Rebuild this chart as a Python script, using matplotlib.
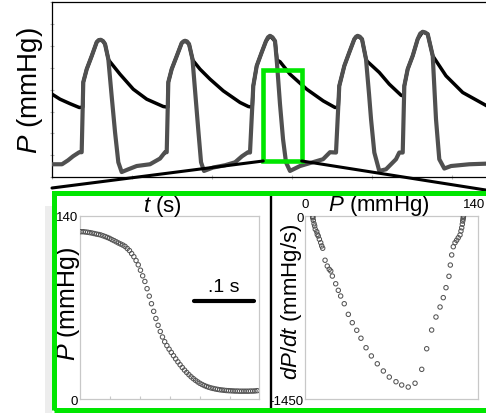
import numpy as np
import matplotlib
matplotlib.use('Agg')
import matplotlib.pyplot as plt
import matplotlib.transforms as mtransforms
from matplotlib.patches import Rectangle, ConnectionPatch
from matplotlib.lines import Line2D

plt.rcParams['font.family'] = ['Liberation Sans', 'DejaVu Sans']
plt.rcParams['mathtext.fontset'] = 'custom'
plt.rcParams['mathtext.it'] = 'Liberation Sans:italic'
plt.rcParams['mathtext.rm'] = 'Liberation Sans'

# ---------------- data ----------------
# Top panel: left-ventricular pressure (grey) and aortic pressure (black); time in ms, P in mmHg
lv_t = [0, 12.5, 20, 26.3, 34.1, 37.1, 39.1, 43.4, 49.6, 55.9, 58.4, 60.9, 63.8, 66.3, 70.4, 74.6, 78.8, 82.9, 87.1,
        95.4, 105.9, 122.5, 135, 141.3,
        143.4, 145.4, 149.6, 155.9, 162.1, 164.2, 166.3, 168.8, 171.3, 175.6, 179.4, 183.1, 186.3, 190, 201.3,
        216.3, 228.8, 237.5, 245,
        247.5, 251.6, 255.9, 262.1, 267.5, 270.0, 272.5, 275.6, 278.8, 281.3, 285, 288.8, 292.5, 297.5, 310,
        338.8, 347.5,
        355, 359.1, 365.4, 371.6, 377.9, 380.0, 382.1, 384.8, 387.5, 392.5, 396.3, 398.8, 402.9, 409.1, 417.5,
        430, 434.1,
        438.4, 440.4, 444.6, 450.9, 457.1, 460.3, 463.4, 466.5, 469.6, 475.9, 480, 484.1, 490.4, 498.8, 521.6, 545]
lv_p = [11.9, 11.9, 15.5, 19.2, 22.9, 22.9, 86.8, 98.7, 110.6, 123.4, 125.2, 125.5, 124.3, 121.6, 107.9, 74.0, 41.1,
        13.7, 4.8, 7.3, 10.3, 11.9, 17.1, 22.9,
        22.9, 86.8, 98.7, 110.6, 122.5, 124.0, 124.6, 124.0, 121.6, 107.9, 74.0, 41.1, 13.7, 5.8, 8.9,
        11.0, 13.7, 19.2, 22.9,
        22.6, 83.4, 101.7, 114.0, 124.3, 127.8, 129.1, 127.8, 124.3, 103.3, 66.7, 34.7, 13.7, 5.8, 10.3,
        16.5, 22.9,
        22.6, 83.4, 101.7, 114.0, 126.1, 128.3, 129.1, 128.3, 126.1, 107.9, 75.9, 53.0, 22.6, 5.8, 7.3,
        16.5, 22.6,
        22.6, 83.4, 98.7, 110.9, 126.1, 131.2, 132.8, 132.2, 130.7, 110.9, 53.0, 16.5, 8.0, 10.3, 11.9, 12.5]

ao_t = [0, 10, 22.5, 34.1, 38.4, 39.1, 43.4, 49.6, 55.9, 58.4, 60.9, 63.8, 66.3, 70.4, 71.6, 85, 101.6, 118.4,
        139.1, 144.7,
        145.4, 149.6, 155.9, 162.1, 166.3, 171.3, 175.6, 176.6, 185, 197.5, 214.1, 235, 245.4, 250.3,
        251.6, 255.9, 262.1, 267.5, 272.5, 278.8, 281.3, 285, 297.5, 318.4, 339.1, 353.8, 357.8,
        359.1, 365.4, 371.6, 377.9, 382.1, 387.5, 392.5, 393.8, 409.1, 421.6, 436.3, 440.1,
        440.4, 444.6, 450.9, 457.1, 463.4, 469.6, 475.9, 492.5, 513.4, 545]
ao_p = [75.9, 71.3, 67.2, 63.7, 64.0, 86.8, 98.7, 110.6, 123.4, 125.2, 125.5, 124.3, 121.6, 107.9, 106.3, 94.1,
        80.4, 71.3, 64.6, 64.0,
        86.8, 98.7, 110.6, 122.5, 124.6, 121.6, 107.9, 106.3, 98.7, 89.6, 78.9, 68.3, 64.6, 64.0,
        83.4, 101.7, 114.0, 124.3, 129.1, 124.3, 107.0, 105.5, 94.1, 80.4, 69.7, 63.7, 64.0,
        83.4, 101.7, 114.0, 126.1, 129.1, 126.1, 107.9, 106.0, 95.7, 85.0, 74.9, 74.0,
        83.4, 98.7, 110.9, 126.1, 132.8, 130.7, 110.9, 92.6, 77.4, 64.6]

# zoom window (ms, mmHg)
zoom_t = [264.1, 312.1]
zoom_p = [14.9, 97.5]

# Lower left: pressure samples during relaxation (mmHg), uniform sampling
p_relax = [128.0, 128.0, 127.8, 127.6, 127.3, 127.0, 126.6, 126.2, 125.9, 125.5, 124.9, 124.3, 123.6, 122.9,
           122.0, 121.2, 120.3, 119.4, 118.6, 117.8, 116.8, 115.2, 113.6, 111.3, 108.9, 106.0, 102.7, 98.6,
           94.3, 90.0, 84.5, 78.8, 73.0, 67.2, 61.7, 56.5, 51.8, 47.6, 44.0, 41.0, 38.3, 35.8, 33.3, 30.9,
           28.6, 26.4, 24.3, 22.3, 20.5, 18.8, 17.2, 15.8, 14.5, 13.3, 12.2, 11.3, 10.5, 9.8, 9.2, 8.7, 8.3,
           7.9, 7.6, 7.3, 7.1, 6.9, 6.7, 6.6, 6.5, 6.4, 6.3, 6.3, 6.2, 6.2, 6.2, 6.2, 6.2, 6.3, 6.3, 6.4, 6.6]
t0 = 0.00167
dt = 0.00367
t_relax = t0 + dt * np.arange(len(p_relax))

# Lower right: phase plot dP/dt vs P
pv_p = [128.0, 127.9, 127.7, 127.4, 127.1, 126.6, 126.0, 125.2, 123.8, 122.5, 121.2, 119.8, 118.5, 117.4,
        116.3, 113.9, 111.7, 109.1, 105.8, 102.3, 98.3, 94.3, 88.9, 83.4, 78.1, 73.5, 68.1, 63.3, 58.4, 53.6,
        49.3, 45.2, 41.8, 38.2, 35.0, 31.7, 28.8, 26.9, 24.8, 22.1, 20.8, 19.6, 18.0, 16.2, 14.3, 13.5, 12.7,
        11.6, 10.7, 9.9, 9.5, 8.3, 7.8, 7.3, 6.7, 6.2, 6.2, 6.3]
pv_dpdt = [-3, -13, -25, -40, -65, -93, -119, -150, -172, -192, -211, -243, -308, -388, -477, -567, -646,
           -720, -799, -902, -1050, -1213, -1323, -1353, -1337, -1311, -1274, -1226, -1169, -1107, -1042,
           -967, -904, -844, -778, -694, -633, -588, -536, -475, -435, -422, -396, -350, -255, -237, -211,
           -184, -158, -145, -124, -105, -79, -61, -34, -8, -3, -15]

scale_bar_s = 0.1

# ---------------- figure ----------------
W, H = 486, 414
fig = plt.figure(figsize=(W / 100, H / 100), dpi=100)
fig.patch.set_facecolor('white')


def rect(x0, y0, x1, y1):
    return [x0 / W, 1 - y1 / H, (x1 - x0) / W, (y1 - y0) / H]


def fp(x, y):
    return (x / W, 1 - y / H)


GREEN = '#00e600'
GREY = '#505050'

# faint shadow left of the lower frame
fig.add_artist(Rectangle(fp(45, 414), 7 / W, (414 - 207) / H, transform=fig.transFigure,
                         facecolor='#ededed', edgecolor='none', zorder=0))

# ---- top panel ----
ax = fig.add_axes(rect(52, 3, 488, 178.3))
ax.patch.set_alpha(0)
ax.plot(ao_t, ao_p, color='black', lw=2.5, solid_joinstyle='round', solid_capstyle='round', zorder=2)
ax.plot(lv_t, lv_p, color=GREY, lw=3.0, solid_joinstyle='round', solid_capstyle='round', zorder=3)
ax.set_xlim(0, 545)
ax.set_ylim(0, 160)
ax.set_xticks(np.arange(0, 545, 100))
ax.set_yticks(np.arange(0, 161, 20))
ax.tick_params(labelleft=False, labelbottom=False, color='#b8b8b8', length=3, width=0.8, direction='inout')
for s in ['left', 'bottom', 'top']:
    ax.spines[s].set_linewidth(0.9)
ax.spines['right'].set_visible(False)
ax.add_patch(Rectangle((zoom_t[0], zoom_p[0]), zoom_t[1] - zoom_t[0], zoom_p[1] - zoom_p[0],
                       fill=False, edgecolor=GREEN, lw=3.3, zorder=5, clip_on=False))
fig.text(*fp(30, 91), r'$P$ (mmHg)', rotation=90, ha='center', va='center', fontsize=20)

# connection lines
for xa, xb in [(zoom_t[0], fp(52, 189)), (zoom_t[1], fp(492, 192))]:
    cp = ConnectionPatch(xyA=(xa, zoom_p[0]), coordsA=ax.transData, xyB=xb, coordsB=fig.transFigure,
                         color='black', lw=2.2, zorder=4)
    fig.add_artist(cp)

# big green frame
fig.add_artist(Rectangle(fp(54.2, 410.8), (492 - 54.2) / W, (410.8 - 193.5) / H, transform=fig.transFigure,
                         fill=False, edgecolor=GREEN, lw=3.6, zorder=6))
# divider
fig.add_artist(Line2D([270.5 / W, 270.5 / W], [1 - 195 / H, 0], transform=fig.transFigure, color='black', lw=1.7))

# ---- lower left ----
ax1 = fig.add_axes(rect(80, 217, 259.3, 400.3))
ax1.scatter(t_relax, p_relax, s=10, facecolors='none', edgecolors='#555555', linewidths=0.75, zorder=3)
ax1.set_xlim(0, 179.3 / 600)
ax1.set_ylim(0, 140)
ax1.set_xticks([0.05, 0.10, 0.15, 0.20, 0.25])
ax1.set_yticks([0, 140])
ax1.set_yticklabels(['0', '140'])
ax1.tick_params(axis='x', labelbottom=False, color='#c8c8c8', length=2, direction='in')
ax1.tick_params(axis='y', length=0, pad=1.2, labelsize=9.5)
for s in ax1.spines.values():
    s.set_color('#c8c8c8')
    s.set_linewidth(0.9)
x_sb = 0.19
ax1.plot([x_sb, x_sb + scale_bar_s], [75, 75], color='black', lw=3.0, solid_capstyle='round')
ax1.text(x_sb + scale_bar_s / 2, 86, '.1 s', ha='center', va='center', fontsize=14)
fig.text(*fp(162.5, 207), r'$t$ (s)', ha='center', va='center', fontsize=16)
fig.text(*fp(68, 304), r'$P$ (mmHg)', rotation=90, ha='center', va='center', fontsize=18)

# ---- lower right ----
ax2 = fig.add_axes(rect(305, 217, 478.3, 400.3))
ax2.scatter(pv_p, pv_dpdt, s=10, facecolors='none', edgecolors='#555555', linewidths=0.75, zorder=3)
ax2.set_xlim(0, 140)
ax2.set_ylim(-1450, 0)
ax2.xaxis.tick_top()
ax2.set_xticks([0, 140])
ax2.set_xticklabels(['0', '140'])
ax2.set_yticks([-1450, 0])
ax2.set_yticklabels(['-1450', '0'])
ax2.tick_params(axis='x', length=0, pad=4, labelsize=9.5)
ax2.tick_params(axis='y', length=0, pad=1, labelsize=9.5)
# keep the right-hand "140" inside the picture
shift = mtransforms.ScaledTranslation(-4 / 100, 0, fig.dpi_scale_trans)
lbl = ax2.get_xticklabels()[1]
lbl.set_transform(lbl.get_transform() + shift)
for s in ax2.spines.values():
    s.set_color('#c8c8c8')
    s.set_linewidth(0.9)
fig.text(*fp(379, 206), r'$P$ (mmHg)', ha='center', va='center', fontsize=16)
fig.text(*fp(291.5, 301.5), r'$dP/dt$ (mmHg/s)', rotation=90, ha='center', va='center', fontsize=16)

fig.savefig('out.png', dpi=100, facecolor='white')
